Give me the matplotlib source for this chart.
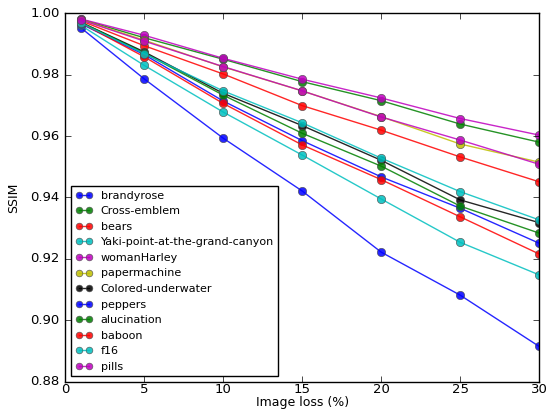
import numpy as np
import matplotlib
matplotlib.use('Agg')
import matplotlib.pyplot as plt

plt.style.use('classic')

# Image loss levels (%)
loss = [1, 5, 10, 15, 20, 25, 30]

names = ['brandyrose', 'Cross-emblem', 'bears', 'Yaki-point-at-the-grand-canyon',
         'womanHarley', 'papermachine', 'Colored-underwater', 'peppers',
         'alucination', 'baboon', 'f16', 'pills']
colors = ['b', 'g', 'r', 'c', 'm', 'y', 'k', 'b', 'g', 'r', 'c', 'm']

# SSIM
brandyrose = [0.9952, 0.9786, 0.9593, 0.9421, 0.9222, 0.9082, 0.8915]
cross_emblem = [0.9980, 0.9920, 0.9850, 0.9777, 0.9715, 0.9639, 0.9580]
bears = [0.9975, 0.9894, 0.9802, 0.9699, 0.9619, 0.9532, 0.9451]
yaki = [0.9960, 0.9830, 0.9678, 0.9538, 0.9395, 0.9254, 0.9148]
womanHarley = [0.9981, 0.9928, 0.9853, 0.9785, 0.9724, 0.9657, 0.9603]
papermachine = [0.9979, 0.9912, 0.9825, 0.9747, 0.9663, 0.9574, 0.9515]
colored_underwater = [0.9970, 0.9874, 0.9739, 0.9634, 0.9521, 0.9392, 0.9318]
peppers = [0.9965, 0.9865, 0.9714, 0.9585, 0.9467, 0.9365, 0.9251]
alucination = [0.9970, 0.9870, 0.9733, 0.9609, 0.9502, 0.9372, 0.9284]
baboon = [0.9968, 0.9858, 0.9706, 0.9571, 0.9458, 0.9337, 0.9216]
f16 = [0.9968, 0.9868, 0.9747, 0.9643, 0.9528, 0.9419, 0.9327]
pills = [0.9978, 0.9909, 0.9826, 0.9747, 0.9662, 0.9587, 0.9508]

data = [brandyrose, cross_emblem, bears, yaki, womanHarley, papermachine,
        colored_underwater, peppers, alucination, baboon, f16, pills]

fig = plt.figure(figsize=(5.48, 4.11), dpi=100)
ax = fig.add_axes([0.119, 0.071, 0.865, 0.897])

for name, c, d in zip(names, colors, data):
    ax.plot(loss, d, '-o', color=c, label=name, linewidth=1, markersize=6,
            markeredgecolor='0.3', markeredgewidth=0.5, alpha=0.85)

ax.set_xlim(0, 30)
ax.set_ylim(0.88, 1.00)
ax.set_xlabel('Image loss (%)', fontsize=9, labelpad=0)
ax.set_ylabel('SSIM', fontsize=9, labelpad=7)
ax.tick_params(labelsize=9.5, pad=4)
ax.tick_params(axis='x', pad=1)
ax.legend(loc='lower left', fontsize=8, numpoints=2, markerscale=0.8,
          borderaxespad=0.5, labelspacing=0.5, handlelength=1.5,
          handletextpad=0.8)

fig.savefig('out.png', dpi=100)
